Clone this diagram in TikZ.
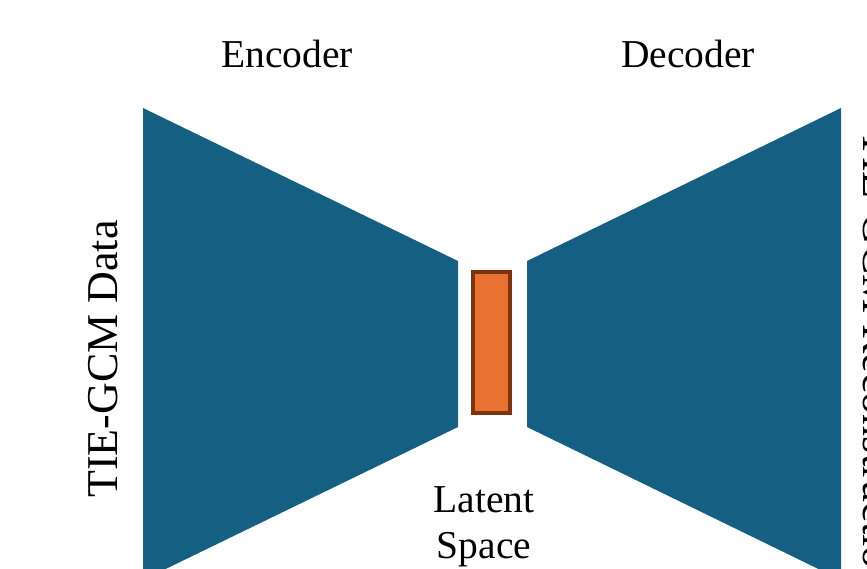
\documentclass[tikz,border=0pt]{standalone}
\usepackage{fontspec}
\setmainfont{Liberation Serif}
\definecolor{netblue}{HTML}{156082}
\definecolor{latentfill}{HTML}{E97132}
\definecolor{latentedge}{HTML}{7A3410}
\tikzset{
  netpart/.style={fill=netblue, draw=none},
  headlabel/.style={font=\fontsize{39.5}{46}\selectfont, inner sep=0pt},
  sidelabel/.style={font=\fontsize{44}{50}\selectfont, inner sep=0pt},
  latentbox/.style={fill=latentfill, draw=latentedge, line width=3.8pt}
}
\begin{document}
\begin{tikzpicture}[x=1pt, y=-1pt]
  \useasboundingbox (0,0) rectangle (867,568);
  \clip (0,0) rectangle (867,568);

  % encoder and decoder funnels
  \fill[netpart] (143,108) -- (458,261) -- (458,427) -- (143,580) -- cycle;
  \fill[netpart] (841,108) -- (527,261) -- (527,427) -- (841,580) -- cycle;

  % bottleneck
  \node[latentbox, minimum width=37pt, minimum height=141pt, inner sep=0pt]
    (latent) at (491.5,342.5) {};

  % labels
  \node[headlabel, anchor=base] (enc) at (287,67) {Encoder};
  \node[headlabel, anchor=base] (dec) at (688,67) {Decoder};
  \node[headlabel, anchor=base] (lat1) at (484,512) {Latent};
  \node[headlabel, anchor=base] (lat2) at (484,558) {Space};
  \node[sidelabel, rotate=90, anchor=base] (inp) at (117,359) {TIE-GCM Data};
  \node[sidelabel, rotate=-90, anchor=base west] (out) at (863,130) {TIE-GCM Reconstruction};
\end{tikzpicture}
\end{document}
